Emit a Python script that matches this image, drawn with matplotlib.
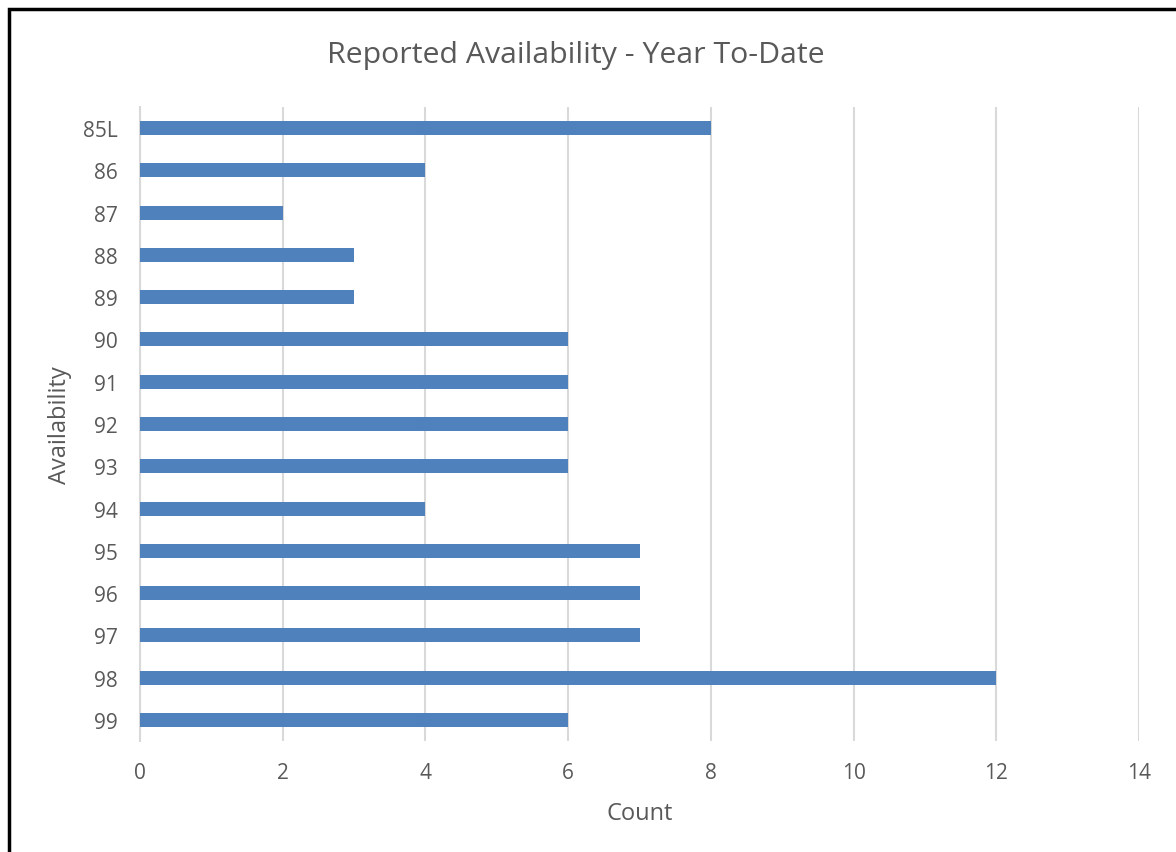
import matplotlib.pyplot as plt
from matplotlib.patches import Rectangle

# data
availability = ["85L", "86", "87", "88", "89", "90", "91", "92",
                "93", "94", "95", "96", "97", "98", "99"]
counts = [8, 4, 2, 3, 3, 6, 6, 6, 6, 4, 7, 7, 7, 12, 6]

bar_color = "#4F81BD"
text_color = "#595959"
grid_color = "#D9D9D9"

plt.rcParams["font.family"] = ["Open Sans", "DejaVu Sans"]

fig = plt.figure(figsize=(11.76, 8.53), dpi=100)
ax = fig.add_axes([140 / 1176, 111 / 853, 999 / 1176, 634 / 853])

pos = list(range(len(availability)))
ax.barh(pos, counts, height=0.33, color=bar_color, zorder=3)

ax.set_ylim(len(availability) - 0.5, -0.5)
ax.set_yticks(pos)
ax.set_yticklabels(availability)
ax.set_xlim(0, 14)
ax.set_xticks(range(0, 15, 2))

ax.grid(axis="x", color=grid_color, linewidth=1.5, zorder=0)
for s in ["top", "right", "bottom"]:
    ax.spines[s].set_visible(False)
ax.spines["left"].set_color(grid_color)
ax.spines["left"].set_linewidth(1.5)

ax.tick_params(axis="both", length=0, labelsize=15, labelcolor=text_color)
ax.tick_params(axis="x", pad=15)
ax.tick_params(axis="y", pad=16)

ax.set_xlabel("Count", fontsize=17, color=text_color, labelpad=13)
ax.set_ylabel("Availability", fontsize=17, color=text_color, labelpad=8)

fig.text(576 / 1176, 1 - 55 / 853, "Reported Availability - Year To-Date",
         ha="center", va="center", fontsize=21.8, color=text_color)

# black frame around the chart
fig.add_artist(Rectangle((9 / 1176, -0.05), 1.2, 1 - 10 / 853 + 0.05,
                         transform=fig.transFigure, fill=False,
                         edgecolor="black", linewidth=2.5, clip_on=False))

fig.savefig("out.png", dpi=100, facecolor="white")
